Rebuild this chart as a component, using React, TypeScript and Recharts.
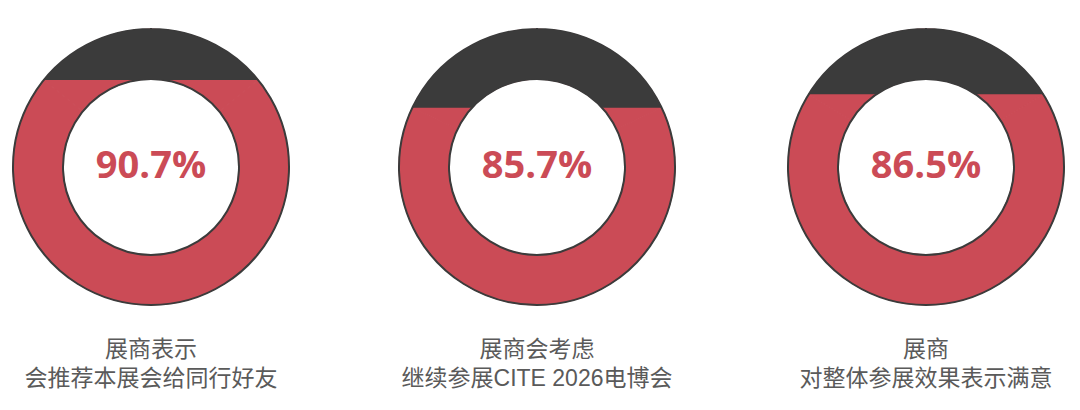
import React from 'react';
import { PieChart, Pie, Cell } from 'recharts';

// ---- data ----
const percents = [90.7, 85.7, 86.5];
const percentLabels = ['90.7%', '85.7%', '86.5%'];
// share (%) of the outer rim covered by the dark top cap
const capShare = [28.3, 35.9, 32.3];
const captionLine1 = ['展商表示', '展商会考虑', '展商'];
const captionLine2 = ['会推荐本展会给同行好友', '继续参展CITE 2026电博会', '对整体参展效果表示满意'];

// ---- styles / layout ----
const RED = '#cb4b56';
const DARK = '#3b3b3b';
const CAPTION = '#5a5a5a';
const CENTERS_X = [151, 537, 926];
const CENTER_Y = 167;
const OUTER = 138;
const INNER = 88;
const CAPTION_FONT = "'Liberation Sans', 'Noto Sans CJK SC', sans-serif";

const rad = (deg: number) => (deg * Math.PI) / 180;

// draws the dark cap (ring region above the chord joining the cap slice's rim ends)
const renderCap = (props: any) => {
  if (props.index !== 0) return null;
  const { cx, cy, innerRadius, outerRadius, startAngle, endAngle } = props;
  const R = outerRadius;
  const r = innerRadius;
  const lx = cx + R * Math.cos(rad(startAngle));
  const ly = cy - R * Math.sin(rad(startAngle));
  const rx = cx + R * Math.cos(rad(endAngle));
  const ry = cy - R * Math.sin(rad(endAngle));
  const d = cy - ry;
  const span = Math.abs(startAngle - endAngle);
  const large = span > 180 ? 1 : 0;
  let path = `M ${lx} ${ly} A ${R} ${R} 0 ${large} 1 ${rx} ${ry}`;
  if (d < r) {
    const hx = Math.sqrt(r * r - d * d);
    path += ` L ${cx + hx} ${ry} A ${r} ${r} 0 0 0 ${cx - hx} ${ry} Z`;
  } else {
    path += ' Z';
  }
  return <path key={`cap-${cx}`} d={path} fill={DARK} stroke="none" />;
};

const makeTextRenderer = (i: number) => (props: any) => {
  if (props.index !== 0) return null;
  const { cx, cy } = props;
  return (
    <g key={`txt-${i}`}>
      <text
        x={cx}
        y={cy + 11}
        textAnchor="middle"
        fill={RED}
        fontFamily="'Open Sans', 'Noto Sans', sans-serif"
        fontWeight={700}
        fontSize={38}
      >
        {percentLabels[i]}
      </text>
      <text x={cx} y={cy + 190} textAnchor="middle" fill={CAPTION} fontFamily={CAPTION_FONT} fontSize={23}>
        {captionLine1[i]}
      </text>
      <text x={cx} y={cy + 219} textAnchor="middle" fill={CAPTION} fontFamily={CAPTION_FONT} fontSize={23}>
        {captionLine2[i]}
      </text>
    </g>
  );
};

export default function App() {
  return (
    <div style={{ position: 'absolute', left: 0, top: 0, width: 1080, height: 410, background: '#fff' }}>
      <PieChart width={1080} height={410} margin={{ top: 0, right: 0, bottom: 0, left: 0 }}>
        {percents.map((p, i) => {
          const share = capShare[i];
          const start = 90 + (share * 3.6) / 2;
          const data = [
            { name: 'cap', value: share },
            { name: 'rest', value: 100 - share },
          ];
          return (
            <Pie
              key={`fill-${i}`}
              data={data}
              dataKey="value"
              cx={CENTERS_X[i]}
              cy={CENTER_Y}
              innerRadius={INNER}
              outerRadius={OUTER}
              startAngle={start}
              endAngle={start - 360}
              fill={RED}
              stroke={RED}
              strokeWidth={1}
              label={renderCap}
              labelLine={false}
              isAnimationActive={false}
            >
              {data.map((d, j) => (
                <Cell key={j} fill={RED} stroke={RED} />
              ))}
            </Pie>
          );
        })}
        {percents.map((p, i) => (
          <Pie
            key={`outline-${i}`}
            data={[{ name: percentLabels[i], value: p }]}
            dataKey="value"
            cx={CENTERS_X[i]}
            cy={CENTER_Y}
            innerRadius={INNER}
            outerRadius={OUTER}
            startAngle={90}
            endAngle={-270}
            fill="none"
            stroke={DARK}
            strokeWidth={2}
            label={makeTextRenderer(i)}
            labelLine={false}
            isAnimationActive={false}
          />
        ))}
      </PieChart>
    </div>
  );
}
